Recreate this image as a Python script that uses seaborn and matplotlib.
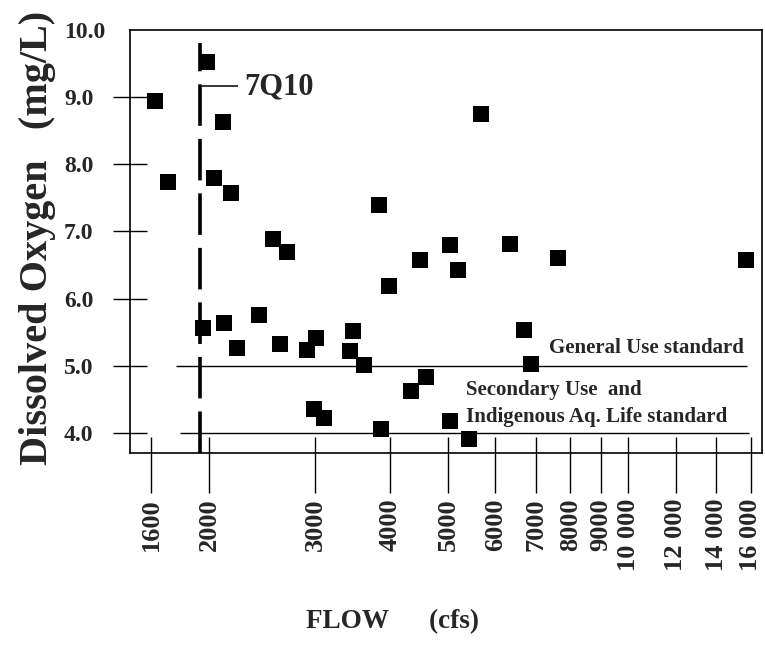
import matplotlib
matplotlib.use("Agg")
import matplotlib.pyplot as plt
import seaborn as sns
import pandas as pd

# ---- data ----
flow = [1625, 1706, 1982, 2104, 2038, 2173, 2559, 2700, 1951, 2118, 2225, 2419,
        2619, 2915, 3013, 2994, 3107, 3470, 3434, 3627, 3838, 3989, 3867, 5684,
        4491, 5046, 5203, 6353, 7627, 15697, 6695, 6871, 4590, 4340, 5046, 5428]
dissolved_oxygen = [8.95, 7.74, 9.53, 8.63, 7.79, 7.57, 6.88, 6.69, 5.56, 5.64, 5.27, 5.75,
                    5.33, 5.24, 5.41, 4.36, 4.22, 5.52, 5.22, 5.01, 7.39, 6.18, 4.06, 8.75,
                    6.58, 6.80, 6.42, 6.82, 6.60, 6.57, 5.53, 5.03, 4.83, 4.62, 4.17, 3.91]
x_ticks = [1600, 2000, 3000, 4000, 5000, 6000, 7000, 8000, 9000, 10000, 12000, 14000, 16000]
x_tick_labels = ["1600", "2000", "3000", "4000", "5000", "6000", "7000", "8000", "9000",
                 "10 000", "12 000", "14 000", "16 000"]
y_ticks = [4.0, 5.0, 6.0, 7.0, 8.0, 9.0, 10.0]
y_tick_labels = ["4.0", "5.0", "6.0", "7.0", "8.0", "9.0", "10.0"]
q7_10 = 1930
general_use_std = 5.0
secondary_use_std = 4.0

df = pd.DataFrame({"flow": flow, "do": dissolved_oxygen})

sns.set_style("white")
plt.rcParams["font.family"] = ["Liberation Serif", "DejaVu Serif"]
plt.rcParams["font.weight"] = "bold"

fig = plt.figure(figsize=(7.65, 6.46), dpi=100)
W, H = 765, 646
ax = fig.add_axes([130 / W, 1 - 453 / H, (762 - 130) / W, (453 - 30) / H])

sns.scatterplot(data=df, x="flow", y="do", marker="s", s=125, color="black",
                linewidth=0, ax=ax, zorder=5, legend=False)

ax.set_xscale("log")
ax.set_xlim(1475, 16700)
ax.set_ylim(3.70, 10.0)

# standards lines
ax.hlines(general_use_std, 1762, 15750, color="black", lw=1.0, zorder=2)
ax.hlines(secondary_use_std, 1788, 15870, color="black", lw=1.0, zorder=2)

# 7Q10 line
ax.vlines(q7_10, 3.70, 9.81, color="black", lw=2.6, linestyles=(0, (11.5, 3.6)), zorder=3)
ax.hlines(9.16, 1945, 2234, color="black", lw=1.1, zorder=3)
ax.text(2290, 9.15, "7Q10", fontsize=22, fontweight="bold", va="center", ha="left")

# annotations
ax.text(7370, 5.26, "General Use standard", fontsize=15, fontweight="bold",
        va="center", ha="left")
ax.text(5360, 4.64, "Secondary Use  and", fontsize=15, fontweight="bold",
        va="center", ha="left")
ax.text(5360, 4.24, "Indigenous Aq. Life standard", fontsize=15, fontweight="bold",
        va="center", ha="left")

# x ticks
ax.set_xticks(x_ticks)
ax.set_xticklabels(x_tick_labels, rotation=90, fontsize=19, fontweight="bold")
ax.xaxis.set_minor_locator(matplotlib.ticker.NullLocator())
ax.tick_params(axis="x", which="major", bottom=True, direction="out", length=29,
               width=1.0, pad=4, color="black")
ax.vlines(x_ticks, 3.70, 3.94, color="black", lw=1.0, zorder=2)

# y ticks
ax.set_yticks(y_ticks)
ax.set_yticklabels(y_tick_labels, fontsize=17, fontweight="bold", ha="left")
ax.tick_params(axis="y", which="major", left=True, direction="inout", length=25,
               width=1.0, pad=35, color="black")
ax.yaxis.get_major_ticks()[-1].tick1line.set_visible(False)

for sp in ax.spines.values():
    sp.set_color("black")
    sp.set_linewidth(1.2)
    sp.set_visible(True)

ax.set_xlabel("")
ax.set_ylabel("")
fig.text(393 / W, 1 - 622 / H, "FLOW      (cfs)", fontsize=19.5, fontweight="bold",
         ha="center", va="center")
fig.text(38 / W, 1 - 238 / H, "Dissolved Oxygen   (mg/L)", fontsize=29, fontweight="bold",
         rotation=90, ha="center", va="center")

fig.savefig("out.png", dpi=100)
